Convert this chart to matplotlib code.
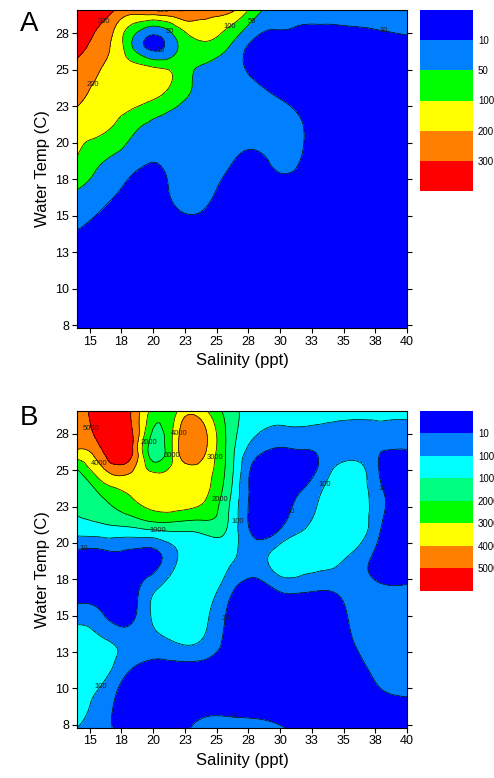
import numpy as np
import matplotlib
matplotlib.use('Agg')
import matplotlib.pyplot as plt
import matplotlib.tri as mtri

plt.rcParams['font.family'] = ['Liberation Sans', 'DejaVu Sans']

# ---------------- data ----------------
salinity = [14, 16, 18, 20, 22, 24, 26, 28, 30, 32, 34, 36, 38, 40]
water_temp = [7.3, 9, 11, 13, 15, 17, 19, 21, 23, 25, 26.6, 29.1]

# Panel A: rows follow water_temp (bottom -> top), columns follow salinity
values_a = [
    [2, 2, 2, 2, 2, 2, 2, 2, 2, 2, 2, 2, 2, 2],
    [2, 2, 2, 2, 2, 2, 2, 2, 2, 2, 2, 2, 2, 2],
    [2, 2, 2, 2, 2, 2, 2, 2, 2, 2, 2, 2, 2, 2],
    [6, 4, 2, 2, 2, 2, 2, 2, 2, 2, 2, 2, 2, 2],
    [26, 8.5, 4, 4, 8.5, 8.5, 3, 2, 2, 2, 2, 2, 2, 2],
    [55, 30, 8.5, 6, 22, 22, 7, 4, 7, 5, 2, 2, 2, 2],
    [100, 58, 34, 14, 26, 26, 16, 8, 22, 8.5, 3, 2, 2, 2],
    [140, 120, 70, 38, 34, 34, 34, 34, 30, 9.5, 4, 2, 2, 2],
    [220, 170, 150, 105, 60, 38, 34, 30, 10, 5, 2, 2, 2, 2],
    [260, 195, 150, 130, 80, 42, 26, 7, 2, 2, 2, 2, 2, 2],
    [340, 240, 75, 7, 52, 90, 50, 7, 6, 6, 5, 5, 6, 7],
    [380, 360, 250, 300, 310, 240, 230, 75, 26, 18, 25, 30, 31, 34],
]
levels_a = [10, 50, 100, 200, 300]
colors_a = ['#0000ff', '#0080ff', '#00ff00', '#ffff00', '#ff8000', '#ff0000']

# Panel B
values_b = [
    [100, 37, 6, 4, 7, 37, 55, 46, 19, 6, 4, 3, 3, 4],
    [640, 55, 6, 5, 4, 5, 5, 5, 4, 3, 3, 3, 6, 8],
    [640, 370, 9.5, 4, 3, 3, 3, 3, 3, 3, 3, 5, 46, 73],
    [640, 370, 73, 64, 95, 78, 6, 3, 2, 2, 2, 15, 64, 73],
    [64, 19, 6, 235, 640, 325, 8, 4, 3, 3, 4, 37, 55, 55],
    [3, 3, 4, 73, 550, 640, 46, 6, 37, 37, 28, 28, 15, 15],
    [5, 5, 6, 6, 145, 550, 280, 64, 640, 640, 460, 64, 7, 5],
    [550, 730, 865, 1200, 1300, 1400, 820, 6, 9.5, 100, 640, 730, 9.5, 4],
    [1050, 1900, 2800, 3500, 3600, 3100, 1100, 5, 4, 46, 550, 730, 28, 4],
    [1900, 3800, 4300, 2800, 3500, 3500, 1500, 6, 3, 6, 91, 550, 8, 5],
    [4200, 5200, 5900, 1500, 4000, 4300, 1600, 64, 12, 19, 24, 28, 19, 19],
    [4900, 5800, 5300, 2600, 3100, 3200, 1500, 640, 820, 820, 865, 820, 550, 415],
]
levels_b = [10, 100, 1000, 2000, 3000, 4000, 5000]
colors_b = ['#0000ff', '#0080ff', '#00ffff', '#00ff80', '#00ff00',
            '#ffff00', '#ff8000', '#ff0000']

x_ticks = [15, 17.5, 20, 22.5, 25, 27.5, 30, 32.5, 35, 37.5, 40]
x_tick_labels = ['15', '18', '20', '23', '25', '28', '30', '33', '35', '38', '40']
y_ticks = [7.5, 10, 12.5, 15, 17.5, 20, 22.5, 25, 27.5]
y_tick_labels = ['8', '10', '13', '15', '18', '20', '23', '25', '28']

W, H = 494, 778
fig = plt.figure(figsize=(W / 100, H / 100), dpi=100)


def fx(px):
    return px / W


def fy(py):
    return 1 - py / H


def draw_panel(ax, cax, values, levels, colors, letter, letter_y):
    Z = np.asarray(values, float)
    S, T = np.meshgrid(salinity, water_temp)
    edges = [0] + list(levels) + [levels[-1] + (levels[-1] - levels[-2])]
    idx = np.interp(Z, edges, np.arange(len(edges)))
    tri = mtri.Triangulation(S.ravel(), T.ravel())
    refiner = mtri.UniformTriRefiner(tri)
    tri_f, z_f = refiner.refine_field(idx.ravel(), subdiv=3)
    top = len(edges) - 1
    z_f = np.clip(z_f, 0.001, top - 0.001)
    band_levels = np.arange(len(edges))
    cf = ax.tricontourf(tri_f, z_f, levels=band_levels, colors=colors)
    cl = ax.tricontour(tri_f, z_f, levels=band_levels[1:-1], colors='k',
                       linewidths=0.5)
    labels = ax.clabel(cl, fmt={i + 1: str(v) for i, v in enumerate(levels)},
                       fontsize=5.5, inline=False, colors='#202020')
    for t in labels:
        t.set_rotation(0)
    ax.set_xlim(14, 40)
    ax.set_ylim(7.3, 29.1)
    ax.set_xticks(x_ticks)
    ax.set_xticklabels(x_tick_labels)
    ax.set_yticks(y_ticks)
    ax.set_yticklabels(y_tick_labels)
    ax.tick_params(direction='out', length=3.5, width=0.8, labelsize=9,
                   right=True, top=False, pad=2)
    for sp in ax.spines.values():
        sp.set_linewidth(0.8)
    ax.set_xlabel('Salinity (ppt)', fontsize=12, labelpad=4)
    ax.set_ylabel('Water Temp (C)', fontsize=12, labelpad=4)

    cb = fig.colorbar(cf, cax=cax, ticks=band_levels[1:-1])
    cb.set_ticklabels([str(v) for v in levels])
    cax.invert_yaxis()
    cb.outline.set_visible(False)
    cax.tick_params(length=0, labelsize=7, pad=3.5)

    fig.text(fx(20), fy(letter_y), letter, fontsize=20, ha='left',
             va='baseline')


ax_a = fig.add_axes([fx(77), fy(328), fx(330), 318 / H])
cax_a = fig.add_axes([fx(420), fy(191), fx(53), 181 / H])
draw_panel(ax_a, cax_a, values_a, levels_a, colors_a, 'A', 31)

ax_b = fig.add_axes([fx(77), fy(727.7), fx(330), 317.2 / H])
cax_b = fig.add_axes([fx(420), fy(591), fx(53), 180.3 / H])
draw_panel(ax_b, cax_b, values_b, levels_b, colors_b, 'B', 425)

fig.savefig('out.png', dpi=100)
